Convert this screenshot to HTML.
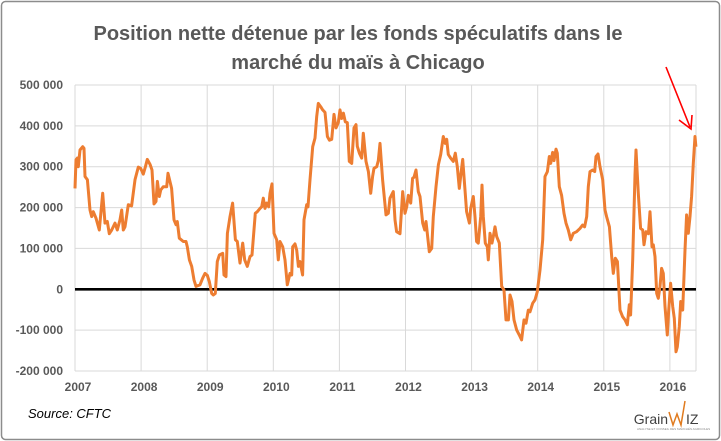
<!DOCTYPE html>
<html><head><meta charset="utf-8"><style>
body{margin:0;background:#fff;}
#wrap{position:relative;width:721px;height:441px;overflow:hidden;font-family:"Liberation Sans",sans-serif;}
</style></head><body>
<div id="wrap">
<svg id="chart" width="721" height="441" viewBox="0 0 721 441">
<rect x="1.5" y="1.5" width="718" height="438" rx="4" fill="#fff" stroke="#8c8c8c" stroke-width="1.5"/>
<text x="358" y="40" text-anchor="middle" font-size="20" font-weight="bold" fill="#595959">Position nette détenue par les fonds spéculatifs dans le</text>
<text x="358" y="69" text-anchor="middle" font-size="20" font-weight="bold" fill="#595959">marché du maïs à Chicago</text>
<g id="grid"></g>
<g id="ylabels"></g>
<g id="xlabels"></g>
<line id="zero" stroke="#000" stroke-width="2.6"/>
<path id="series" fill="none" stroke="#ED7D31" stroke-width="3" stroke-linejoin="round"/>
<g>
<line x1="666" y1="67" x2="690" y2="127" stroke="#ff0000" stroke-width="1.6"/>
<polyline points="679,120 691,129 692,115" fill="none" stroke="#ff0000" stroke-width="1.6"/>
</g>
<text x="28" y="418" font-size="13" font-style="italic" fill="#000">Source: CFTC</text>
<g>
<text x="668" y="424" font-size="14" fill="#404040" text-anchor="end">Grain</text>
<polyline points="669,412 673,425 677,414 681,425 685,401" fill="none" stroke="#e07b1f" stroke-width="1.5"/>
<text x="686" y="424" font-size="14" fill="#404040">IZ</text>
<text x="637" y="430" font-size="3" fill="#888">ANALYSE ET CONSEIL DES MARCHÉS AGRICOLES</text>
</g>
</svg>
</div>
<script>
const yTicks=[500000,400000,300000,200000,100000,0,-100000,-200000];
const yTickLabels=["500 000","400 000","300 000","200 000","100 000","0","-100 000","-200 000"];
const xYears=[2007,2008,2009,2010,2011,2012,2013,2014,2015,2016];
const tOffset=[0,.015,.035,.05,.076,.116,.136,.151,.187,.227,.252,.277,.318,.368,.419,.454,.489,.519,.555,.605,.640,.681,.706,.731,.756,.807,.857,.908,.958,.993,1.034,1.064,1.094,1.135,1.165,1.195,1.225,1.246,1.276,1.296,1.336,1.387,1.407,1.462,1.498,1.528,1.548,1.578,1.639,1.679,1.699,1.730,1.765,1.800,1.831,1.891,1.931,1.967,2.002,2.032,2.068,2.093,2.123,2.153,2.184,2.234,2.254,2.284,2.305,2.345,2.385,2.426,2.456,2.496,2.537,2.567,2.607,2.648,2.678,2.728,2.758,2.799,2.824,2.849,2.874,2.900,2.930,2.950,2.980,3.011,3.051,3.076,3.101,3.142,3.177,3.212,3.253,3.278,3.293,3.328,3.354,3.379,3.404,3.444,3.464,3.505,3.525,3.555,3.596,3.631,3.656,3.681,3.717,3.747,3.782,3.818,3.848,3.883,3.918,3.949,3.984,4.009,4.034,4.060,4.090,4.120,4.150,4.186,4.221,4.251,4.271,4.302,4.337,4.362,4.402,4.438,4.473,4.503,4.523,4.564,4.589,4.614,4.654,4.705,4.740,4.765,4.816,4.841,4.866,4.917,4.957,4.992,5.018,5.043,5.078,5.108,5.128,5.159,5.194,5.219,5.260,5.290,5.310,5.330,5.360,5.396,5.421,5.461,5.497,5.532,5.572,5.602,5.623,5.648,5.683,5.723,5.754,5.784,5.814,5.845,5.865,5.900,5.925,5.966,5.986,6.026,6.051,6.076,6.102,6.137,6.157,6.177,6.208,6.238,6.253,6.278,6.308,6.329,6.354,6.379,6.419,6.455,6.490,6.520,6.556,6.581,6.611,6.641,6.682,6.722,6.757,6.793,6.823,6.858,6.883,6.924,6.959,6.994,7.035,7.075,7.110,7.146,7.176,7.196,7.226,7.246,7.277,7.297,7.327,7.362,7.398,7.428,7.463,7.499,7.539,7.589,7.640,7.680,7.710,7.741,7.766,7.791,7.831,7.862,7.882,7.912,7.942,7.983,8.018,8.043,8.084,8.119,8.144,8.174,8.205,8.245,8.285,8.321,8.356,8.386,8.406,8.437,8.472,8.487,8.522,8.557,8.588,8.608,8.638,8.674,8.699,8.729,8.749,8.775,8.800,8.825,8.850,8.875,8.900,8.926,8.961,8.981,9.011,9.042,9.067,9.092,9.112,9.142,9.163,9.193,9.228,9.253,9.278,9.304,9.329,9.354,9.379,9.394];
const netK=[247,317,321,300,341,349,345,276,268,194,178,190,174,145,235,162,166,136,145,162,145,170,194,145,153,207,204,268,299,296,282,299,318,306,292,209,215,264,227,243,251,251,284,247,170,158,166,125,117,117,104,72,56,23,7,11,27,39,34,19,-10,-14,-10,68,84,88,35,31,137,178,211,121,117,64,113,72,56,80,84,186,190,198,202,223,198,211,202,235,258,137,121,72,117,104,72,11,39,35,104,111,96,56,68,35,170,207,202,268,349,370,423,455,447,439,433,374,365,367,428,395,408,439,418,431,410,408,313,308,395,403,350,333,321,382,313,288,235,276,296,300,315,357,268,182,186,223,239,170,141,136,239,186,202,230,211,272,274,292,239,227,162,145,166,137,92,100,178,251,305,330,374,357,367,330,321,313,333,300,247,292,318,243,190,162,198,227,178,117,113,178,255,178,113,104,72,137,113,129,153,129,113,7,-2,-75,-75,-14,-30,-75,-100,-112,-124,-75,-83,-51,-55,-34,-26,-6,47,121,276,288,325,308,335,315,343,333,251,230,186,162,145,121,137,141,149,157,153,178,251,288,292,288,325,331,300,268,194,178,153,80,39,76,68,-51,-67,-75,-87,-38,-63,72,280,341,235,149,145,109,141,136,190,104,109,80,-10,-22,7,51,39,-42,-112,-55,15,-42,-71,-153,-141,-91,-30,-51,96,182,137,178,227,308,374,349];
const L=75,R=696,T=85,B=371,yMin=-200000,yMax=500000,pxYear=66.1;
const xs=t=>L+(t-2007)*pxYear;
const ys=v=>B-(v-yMin)/(yMax-yMin)*(B-T);
const NS="http://www.w3.org/2000/svg";
const grid=document.getElementById('grid'),yl=document.getElementById('ylabels'),xl=document.getElementById('xlabels');
yTicks.forEach((v,i)=>{
 const ln=document.createElementNS(NS,'line');
 
 
 ln.setAttribute('x1',L);ln.setAttribute('x2',R);ln.setAttribute('y1',ys(v));ln.setAttribute('y2',ys(v));
 ln.setAttribute('stroke','#d9d9d9');ln.setAttribute('stroke-width','1');grid.appendChild(ln);
 const tx=document.createElementNS(NS,'text');
 
 
 tx.setAttribute('x',63);tx.setAttribute('y',ys(v)+4);tx.setAttribute('text-anchor','end');
 tx.setAttribute('font-size','12');tx.setAttribute('font-weight','bold');tx.setAttribute('fill','#595959');
 tx.textContent=yTickLabels[i];yl.appendChild(tx);
});
const vx=xYears.concat([2007+(R-L)/pxYear]);
vx.forEach((y,i)=>{
 const ln=document.createElementNS(NS,'line');
 
 
 ln.setAttribute('x1',xs(y));ln.setAttribute('x2',xs(y));ln.setAttribute('y1',T);ln.setAttribute('y2',B);
 ln.setAttribute('stroke','#d9d9d9');ln.setAttribute('stroke-width','1');grid.appendChild(ln);
});
xYears.forEach(y=>{
 const tx=document.createElementNS(NS,'text');
 
 
 tx.setAttribute('x',xs(y)+3);tx.setAttribute('y',391);tx.setAttribute('text-anchor','middle');
 tx.setAttribute('font-size','12');tx.setAttribute('font-weight','bold');tx.setAttribute('fill','#595959');
 tx.textContent=y;xl.appendChild(tx);
});
const z=document.getElementById('zero');
z.setAttribute('x1',L);z.setAttribute('x2',R);z.setAttribute('y1',ys(0));z.setAttribute('y2',ys(0));
let d='';
tOffset.forEach((t,i)=>{d+=(i?'L':'M')+xs(2007+t).toFixed(1)+','+ys(netK[i]*1000).toFixed(1);});
document.getElementById('series').setAttribute('d',d);
</script>
</body></html>
